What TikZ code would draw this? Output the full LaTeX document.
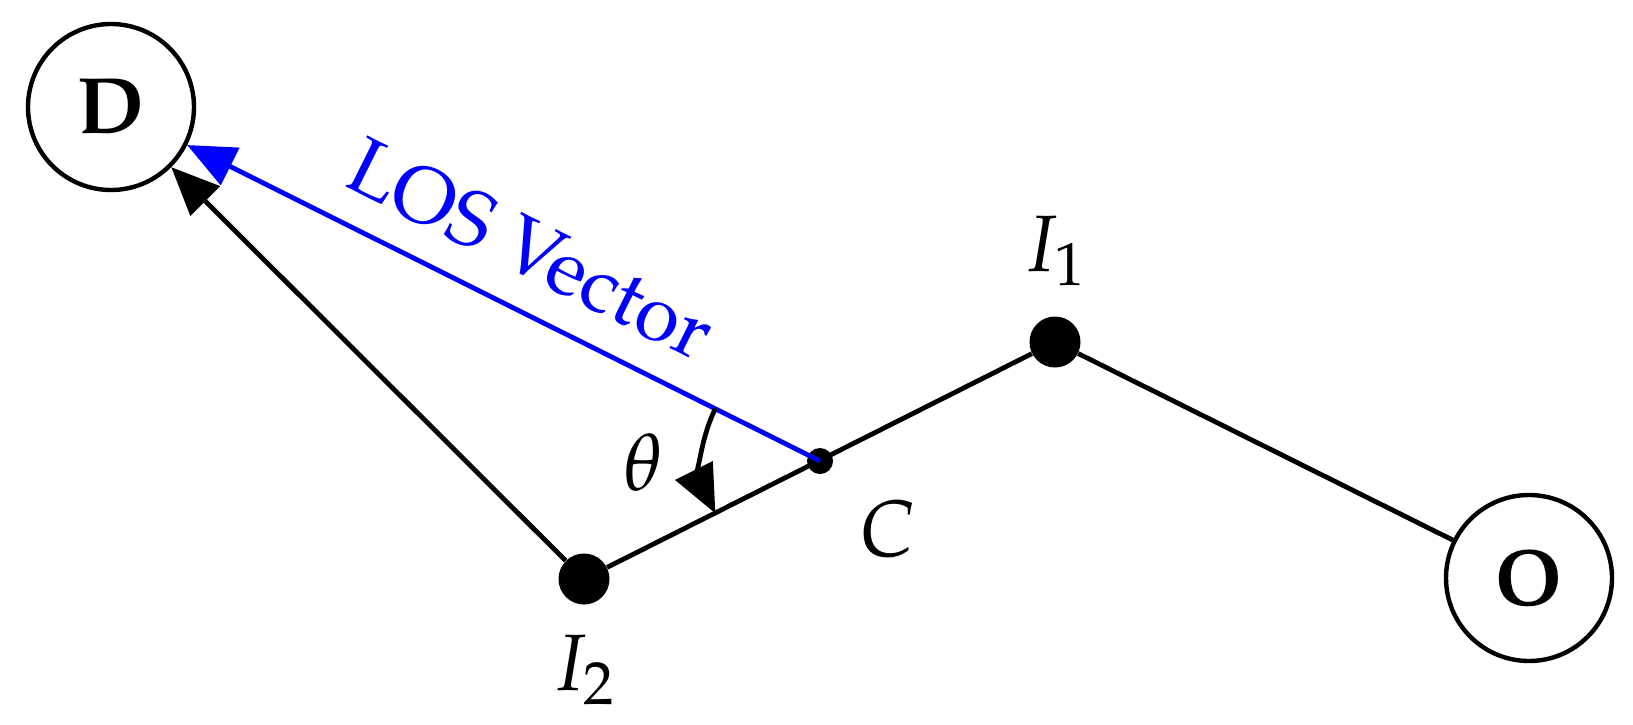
\documentclass[tikz,border=0pt]{standalone}
\usepackage[T1]{fontenc}
\usepackage{mathpazo}
\usetikzlibrary{arrows.meta}
\begin{document}
\begin{tikzpicture}[x=0.5pt,y=0.5pt,
  lw/.style={line width=2.4pt},
  ring/.style={circle,draw,line width=2.2pt,minimum size=83pt,inner sep=0pt,font=\fontsize{40}{48}\selectfont\bfseries},
  bigdot/.style={circle,fill,inner sep=0pt,minimum size=25.5pt},
  smalldot/.style={circle,fill,inner sep=0pt,minimum size=13pt},
  lbl/.style={font=\fontsize{40}{48}\selectfont,inner sep=0pt},
  tipbig/.style={-{Triangle[length=24pt,width=20.5pt]}},
]
\useasboundingbox (0,0) rectangle (1633,-724);
\node[ring] (D) at (111,-107) {D};
\node[ring] (O) at (1529,-578) {O};
\node[bigdot] (I1) at (1055,-342) {};
\node[bigdot] (I2) at (584,-579) {};
\node[smalldot] (C) at (820,-461) {};
\draw[lw] (O) -- (I1);
\draw[lw] (I2) -- (I1);
\draw[lw,tipbig] (I2) -- (D);
\draw[lw,blue,tipbig] (C.center) -- (D);
\draw[lw,tipbig] ([shift={(153.4:58.5pt)}]C.center) arc[start angle=153.4,end angle=206.6,radius=58.5pt];
\node[lbl] (lI1) at (1055,-251) {$I_1$};
\node[lbl] (lI2) at (584,-670) {$I_2$};
\node[lbl] (lC) at (888,-529) {$C$};
\node[lbl] (lth) at (643,-462) {$\theta$};
\node[lbl,text=blue,rotate=-26.5] (los) at (531,-249) {LOS Vector};
\end{tikzpicture}
\end{document}
